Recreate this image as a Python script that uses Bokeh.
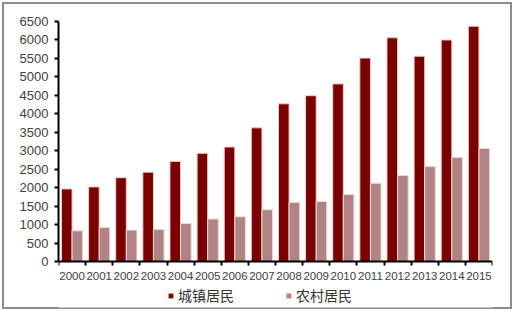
import numpy as np
from bokeh.plotting import figure
from bokeh.models import ColumnDataSource, FixedTicker, Legend, LegendItem, Range1d
from bokeh.embed import file_html
from bokeh.resources import INLINE

years = ["2000", "2001", "2002", "2003", "2004", "2005", "2006", "2007",
         "2008", "2009", "2010", "2011", "2012", "2013", "2014", "2015"]
urban = [1965, 2020, 2270, 2420, 2710, 2930, 3100, 3620,
         4270, 4490, 4810, 5510, 6060, 5560, 6000, 6370]
rural = [830, 920, 850, 870, 1030, 1150, 1210, 1400,
         1600, 1625, 1815, 2120, 2330, 2570, 2820, 3060]
y_ticks = [0, 500, 1000, 1500, 2000, 2500, 3000, 3500, 4000, 4500, 5000, 5500, 6000, 6500]
series_names = ["城镇居民", "农村居民"]

# layout (pixels)
W, H = 514, 311
LEFT, RIGHT, TOP, BOTTOM = 58, 22, 21, 4
AXIS_PX = 240            # pixels from value 0 up to 6500
Y_MAX = 6500
below_px = (H - BOTTOM - TOP) - AXIS_PX   # frame pixels below the zero line
y_min = -below_px * Y_MAX / AXIS_PX

idx = np.arange(len(years))
src = ColumnDataSource(dict(
    xu=idx + 0.5 - 0.195,
    xr=idx + 0.5 + 0.195,
    urban=urban,
    rural=rural,
))

p = figure(width=W, height=H, output_backend="svg", toolbar_location=None,
           x_range=Range1d(0, len(years)), y_range=Range1d(y_min, Y_MAX),
           min_border_left=LEFT, min_border_right=RIGHT, min_border_top=TOP,
           min_border_bottom=BOTTOM)
p.styles = {"box-shadow": "inset 0 0 0 2px white, inset 0 0 0 4px #8c8c8c"}
p.outline_line_color = None
p.grid.visible = False
p.background_fill_color = "white"
p.border_fill_color = None

ru = p.vbar(x="xu", top="urban", width=0.39, bottom=0, source=src,
            fill_color="#7a0000", line_color="#efcaca", line_width=1)
rr = p.vbar(x="xr", top="rural", width=0.39, bottom=0, source=src,
            fill_color="#b08484", line_color="#efd6d6", line_width=1)

# x axis, pinned at value 0
xa = p.xaxis[0]
xa.fixed_location = 0
xa.ticker = FixedTicker(ticks=list(idx + 0.5), minor_ticks=list(range(len(years) + 1)))
xa.major_label_overrides = {float(i + 0.5): y for i, y in enumerate(years)}
xa.major_tick_line_color = None
xa.major_tick_out = 4
xa.major_tick_in = 0
xa.minor_tick_line_color = "black"
xa.minor_tick_out = 4
xa.minor_tick_in = 0
xa.minor_tick_line_width = 2
xa.axis_line_color = "black"
xa.axis_line_width = 2
xa.major_label_standoff = 6
xa.major_label_text_font = "Liberation Sans"
xa.major_label_text_font_size = "11.5px"
xa.major_label_text_color = "#404040"

# y axis
ya = p.yaxis[0]
ya.bounds = (0, Y_MAX)
ya.ticker = FixedTicker(ticks=y_ticks, minor_ticks=[])
ya.major_tick_out = 4
ya.major_tick_in = 0
ya.major_tick_line_width = 2
ya.major_tick_line_color = "black"
ya.axis_line_color = "black"
ya.axis_line_width = 2
ya.major_label_standoff = 6
ya.major_label_text_font = "Liberation Sans"
ya.major_label_text_font_size = "13px"
ya.major_label_text_color = "#404040"
ya.minor_tick_line_color = None

legend = Legend(items=[LegendItem(label=series_names[0], renderers=[ru]),
                       LegendItem(label=series_names[1], renderers=[rr])],
                orientation="horizontal", location=(109, 2),
                padding=0, margin=0, spacing=51, label_standoff=4,
                glyph_width=7, glyph_height=7, label_height=14,
                border_line_color=None, background_fill_alpha=0,
                label_text_font="Noto Sans CJK SC", label_text_font_size="14px",
                label_text_color="#333333")
p.add_layout(legend, "center")

open("out.html", "w").write(file_html(p, INLINE))
